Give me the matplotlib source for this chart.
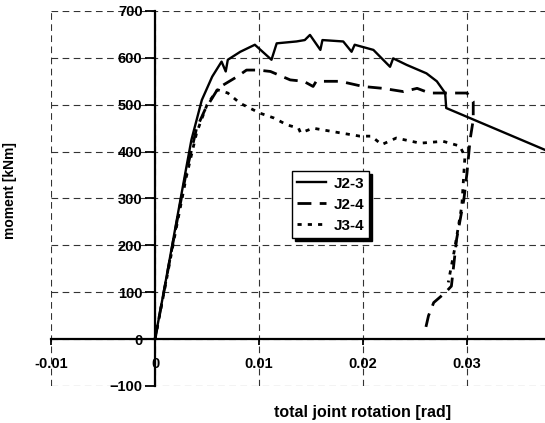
import matplotlib
matplotlib.use('Agg')
import matplotlib.pyplot as plt

# J2-3 (solid)
j23_x = [0, 0.001, 0.002, 0.003, 0.0035, 0.0045, 0.0055, 0.0064, 0.0068, 0.0070, 0.0082,
         0.0096, 0.0112, 0.0117, 0.0136, 0.0144, 0.0149, 0.0159, 0.0161, 0.0181, 0.0189,
         0.0192, 0.0210, 0.0226, 0.0229, 0.0242, 0.0261, 0.0271, 0.0279, 0.0280, 0.0380]
j23_y = [0, 120, 243, 365, 425, 510, 560, 592, 571, 596, 613,
         628, 596, 631, 635, 638, 649, 617, 638, 635, 613,
         628, 617, 581, 599, 585, 567, 550, 525, 493, 399]

# J2-4 (dashed)
j24_x = [0, 0.001, 0.002, 0.003, 0.004, 0.0048, 0.0061, 0.0079, 0.0088, 0.0099, 0.0111,
         0.0130, 0.0143, 0.0152, 0.0155, 0.0178, 0.0200, 0.0219, 0.0239, 0.0252, 0.0264,
         0.0300, 0.0306, 0.0306, 0.0303, 0.0300, 0.0297, 0.0290, 0.0285, 0.0279, 0.0268,
         0.0263, 0.0260]
j24_y = [0, 118, 238, 355, 450, 489, 536, 560, 574, 574, 571,
         553, 550, 539, 550, 550, 539, 535, 528, 535, 525,
         525, 507, 468, 426, 355, 298, 213, 113, 99, 78,
         50, 21]

# J3-4 (dotted)
j34_x = [0, 0.001, 0.002, 0.003, 0.004, 0.005, 0.006, 0.0070, 0.0082, 0.0091, 0.0101,
         0.0114, 0.0127, 0.0138, 0.0140, 0.0152, 0.0178, 0.0197, 0.0208, 0.0218, 0.0232,
         0.0255, 0.0277, 0.0293, 0.0298, 0.0295, 0.0288, 0.0282]
j34_y = [0, 115, 232, 345, 440, 500, 532, 525, 503, 493, 482,
         472, 457, 450, 440, 450, 440, 433, 433, 415, 429,
         418, 422, 412, 390, 284, 191, 121]

x_ticks = [-0.01, 0, 0.01, 0.02, 0.03]
x_labels = ['-0.01', '0', '0.01', '0.02', '0.03']
y_ticks = [-100, 0, 100, 200, 300, 400, 500, 600, 700]

plt.rcParams['font.family'] = ['Liberation Sans', 'DejaVu Sans']
plt.rcParams['font.weight'] = 'bold'

fig = plt.figure(figsize=(5.45, 4.23), dpi=100)
ax = fig.add_axes([0.0936, 0.0875, 0.9064, 0.8865])

ax.plot(j23_x, j23_y, color='black', lw=1.7, linestyle='-', label='J2-3')
ax.plot(j24_x, j24_y, color='black', lw=2.0, linestyle=(0, (5, 3)), label='J2-4')
ax.plot(j34_x, j34_y, color='black', lw=2.0, linestyle=(0, (1.5, 2.2)), label='J3-4')

ax.set_xlim(-0.01, 0.0375)
ax.set_ylim(-100, 700)
ax.set_xticks(x_ticks)
ax.set_xticklabels(x_labels)
ax.set_yticks(y_ticks)

ax.spines['left'].set_position(('data', 0))
ax.spines['bottom'].set_position(('data', 0))
ax.spines['top'].set_visible(False)
ax.spines['right'].set_visible(False)
ax.spines['left'].set_linewidth(1.6)
ax.spines['bottom'].set_linewidth(1.6)

ax.tick_params(axis='both', labelsize=10.5, width=1.3, direction='out')
ax.tick_params(axis='x', length=4, pad=9)
ax.tick_params(axis='y', length=7, pad=2)
for lbl in ax.get_xticklabels() + ax.get_yticklabels():
    lbl.set_fontweight('bold')

ax.grid(True, color='#333333', linestyle=(0, (6, 4)), linewidth=0.8)
ax.set_axisbelow(True)

ax.set_ylabel('moment [kNm]', fontsize=10, fontweight='bold')
ax.yaxis.set_label_coords(-0.068, 0.52)
ax.set_xlabel('total joint rotation [rad]', fontsize=11.5, fontweight='bold')
ax.xaxis.set_label_coords(0.63, -0.05)

leg = ax.legend(loc='lower left', bbox_to_anchor=(0.488, 0.395), fontsize=11,
                frameon=True, fancybox=False,
                shadow={'color': 'black', 'alpha': 1.0},
                handlelength=1.9, borderpad=0.35, labelspacing=0.45,
                handletextpad=0.45, borderaxespad=0)
leg.get_frame().set_edgecolor('black')
leg.get_frame().set_linewidth(1.0)
for t in leg.get_texts():
    t.set_fontweight('bold')

fig.savefig('out.png', dpi=100)
